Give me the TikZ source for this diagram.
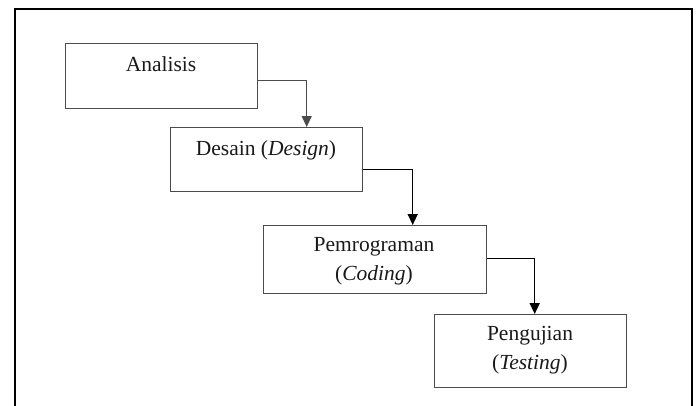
\documentclass[tikz,border=0pt]{standalone}
\usepackage{fontspec}
\setmainfont{Liberation Serif}
\usetikzlibrary{arrows.meta,calc}
\begin{document}
\begin{tikzpicture}[x=1pt,y=-1pt,
  stagebox/.style={draw=black!70,line width=1.4pt,rectangle,inner sep=0pt,anchor=north west},
  stagetext/.style={font=\fontsize{21.5}{28.5}\selectfont,text=black!90,align=center,inner sep=0pt},
  flow/.style={draw=black,line width=1.5pt,-{Triangle[width=10pt,length=11pt]}},
  frame/.style={draw=black,line width=2.8pt}]
\useasboundingbox (0,0) rectangle (696,405);
% outer frame
\coordinate (fbl) at (15,410);
\coordinate (ftl) at (15,9);
\coordinate (ftr) at (692,9);
\coordinate (fbr) at (692,410);
\draw[frame] (fbl) -- (ftl) -- (ftr) -- (fbr);
% boxes
\node[stagebox,minimum width=192pt,minimum height=65pt] (a) at (65,43) {};
\node[stagebox,minimum width=192pt,minimum height=64pt] (b) at (170,127) {};
\node[stagebox,minimum width=223pt,minimum height=68pt] (c) at (263,225) {};
\node[stagebox,minimum width=192pt,minimum height=73pt] (d) at (434,314) {};
% texts
\node[stagetext] (ta) at (161,64) {Analisis};
\node[stagetext] (tb) at (266,150) {Desain (\textit{Design})};
\node[stagetext] (tc) at (374,261) {Pemrograman\\(\textit{Coding})};
\node[stagetext] (td) at (530,350) {Pengujian\\(\textit{Testing})};
% connectors
\draw[flow,draw=black!70,line width=1.1pt] ([yshift=-4.5pt]a.east) -| ([xshift=40pt]b.north);
\draw[flow] ([yshift=-10pt]b.east) -| ([xshift=37.5pt]c.north);
\draw[flow] ([yshift=1pt]c.east) -| ([xshift=4pt]d.north);
\end{tikzpicture}
\end{document}
